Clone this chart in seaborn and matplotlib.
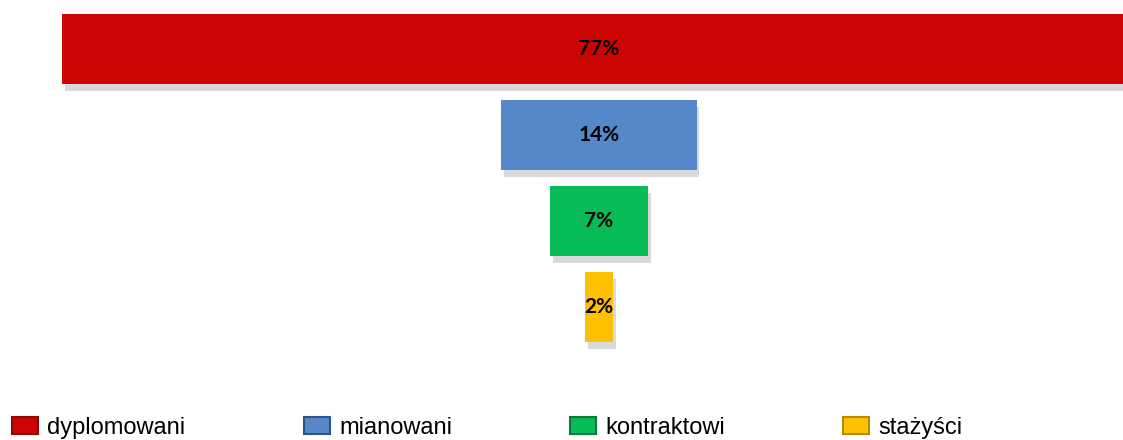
import matplotlib
matplotlib.use('Agg')
import matplotlib.pyplot as plt
from matplotlib import patheffects
from matplotlib.patches import Patch
import seaborn as sns
import pandas as pd

# Funnel data: teachers by professional grade (%)
categories = ['dyplomowani', 'mianowani', 'kontraktowi', 'stażyści']
shares = [77, 14, 7, 2]
colors = ['#CC0404', '#5687C8', '#07BB57', '#FFC000']
edge_colors = ['#8A0A0A', '#2F5586', '#0A7A3A', '#B88A00']

df = pd.DataFrame({'kategoria': categories, 'udzial': shares})
# each bar is drawn as two halves around zero so the funnel is centred
df['prawa'] = df['udzial'] / 2
df['lewa'] = -df['udzial'] / 2

sns.set_theme(style='white')
fig = plt.figure(figsize=(11.23, 4.4), dpi=100)
ax = fig.add_axes([0, 0.2045, 1, 0.782])

for col in ['lewa', 'prawa']:
    sns.barplot(data=df, x=col, y='kategoria', hue='kategoria', palette=colors,
                orient='h', width=0.814, linewidth=0, saturation=1,
                legend=False, ax=ax)

shadow = [patheffects.SimplePatchShadow(offset=(2, -5), shadow_rgbFace='black', alpha=0.15),
          patheffects.Normal()]
for p in ax.patches:
    p.set_path_effects(shadow)

for i, v in enumerate(shares):
    ax.text(0, i, f'{v}%', ha='center', va='center', fontsize=15,
            fontweight='bold', family='Lato', color='black')

ax.set_xlim(-42.95, 37.57)
ax.set_ylim(3.5, -0.5)
ax.axis('off')

handles = [Patch(facecolor=c, edgecolor=e, linewidth=1.5) for c, e in zip(colors, edge_colors)]
fig.legend(handles, categories, loc='lower left', bbox_to_anchor=(0.0107, 0.003),
           ncol=4, frameon=False, prop={'family': 'Liberation Sans', 'size': 17},
           labelcolor='black', handlelength=1.1, handleheight=0.75, handletextpad=0.4,
           columnspacing=5.0, borderpad=0, borderaxespad=0)

fig.savefig('out.png', dpi=100, facecolor='white')
